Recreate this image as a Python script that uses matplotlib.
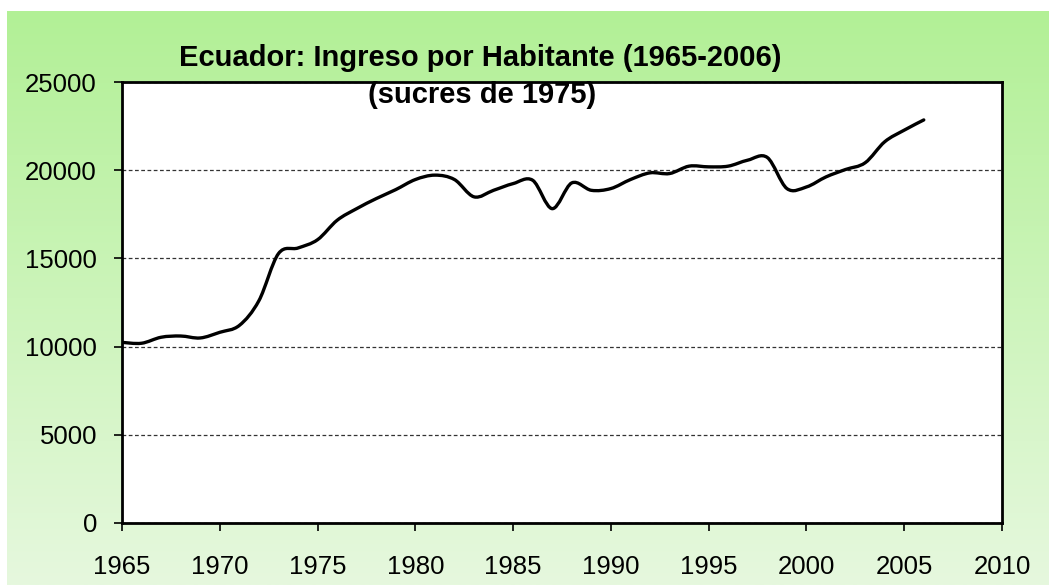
import numpy as np
import matplotlib.pyplot as plt
from matplotlib.colors import LinearSegmentedColormap
from matplotlib.path import Path
from matplotlib.patches import PathPatch

# Ingreso por habitante, sucres de 1975
anios = list(range(1965, 2007))
ingreso = [10240, 10190, 10530, 10600, 10490, 10810, 11200, 12600, 15270, 15590,
           16060, 17160, 17820, 18390, 18900, 19470, 19720, 19470, 18490, 18860,
           19240, 19430, 17820, 19280, 18860, 18960, 19470, 19850, 19810, 20230,
           20190, 20230, 20570, 20720, 18960, 19050, 19620, 20040, 20420, 21610,
           22270, 22850]

xticks = list(range(1965, 2011, 5))
yticks = list(range(0, 25001, 5000))

plt.rcParams['font.family'] = ['Liberation Sans', 'DejaVu Sans']

fig = plt.figure(figsize=(10.49, 5.85), dpi=100)

# fondo verde degradado
bg = fig.add_axes([7 / 1049, 0, 1 - 7 / 1049, 1 - 11 / 585], zorder=-10)
cmap = LinearSegmentedColormap.from_list('verde', ['#e6f8de', '#b2f096'])
bg.imshow(np.linspace(0, 1, 256).reshape(-1, 1)[::-1], aspect='auto', cmap=cmap,
          extent=[0, 1, 0, 1])
bg.axis('off')

ax = fig.add_axes([122 / 1049, 1 - 523 / 585, (1002 - 122) / 1049, (523 - 82) / 585])
ax.set_facecolor('white')

# linea suavizada (tipo Excel): curvas de Bezier por los puntos de datos
x = np.array(anios, dtype=float)
y = np.array(ingreso, dtype=float)
verts = [(x[0], y[0])]
codes = [Path.MOVETO]
for i in range(len(x) - 1):
    x0, y0 = (x[i - 1], y[i - 1]) if i > 0 else (x[i], y[i])
    x3, y3 = (x[i + 2], y[i + 2]) if i + 2 < len(x) else (x[i + 1], y[i + 1])
    c1 = (x[i] + (x[i + 1] - x0) / 6, y[i] + (y[i + 1] - y0) / 6)
    c2 = (x[i + 1] - (x3 - x[i]) / 6, y[i + 1] - (y3 - y[i]) / 6)
    verts += [c1, c2, (x[i + 1], y[i + 1])]
    codes += [Path.CURVE4] * 3
ax.add_patch(PathPatch(Path(verts, codes), facecolor='none', edgecolor='black',
                       lw=2.4, capstyle='round', joinstyle='round'))

ax.set_xlim(1965, 2010)
ax.set_ylim(0, 25000)
ax.set_xticks(xticks)
ax.set_yticks(yticks)
ax.tick_params(labelsize=18.5, length=6, width=1.2, colors='black')
ax.tick_params(axis='x', pad=17)
ax.tick_params(axis='y', pad=12)
for s in ax.spines.values():
    s.set_linewidth(2)
ax.yaxis.grid(True, ls=(0, (3, 2)), color='#333333', lw=0.9)
ax.set_axisbelow(True)

fig.text(480 / 1049, 1 - 58 / 585, 'Ecuador: Ingreso por Habitante (1965-2006)',
         ha='center', va='center', fontsize=21, fontweight='bold')
fig.text(482 / 1049, 1 - 95 / 585, '(sucres de 1975)', ha='center', va='center',
         fontsize=21, fontweight='bold')

fig.savefig('out.png', dpi=100)
